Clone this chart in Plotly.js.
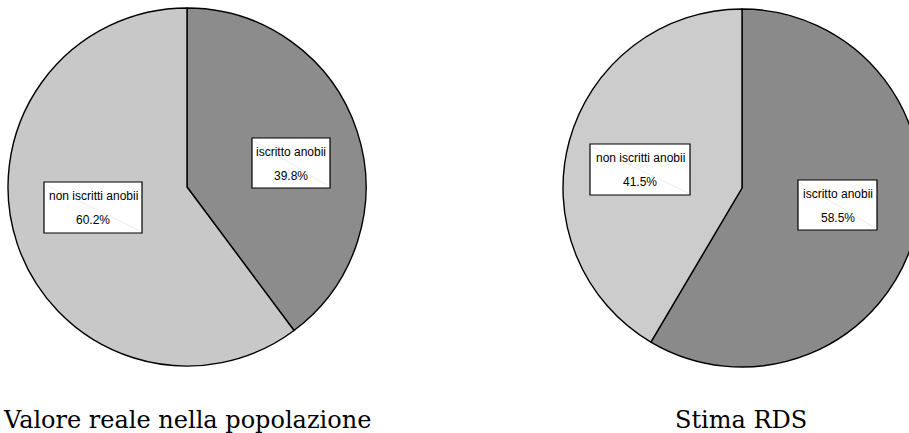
<!DOCTYPE html>
<html>
<head>
<meta charset="utf-8">
<script src="https://cdn.plot.ly/plotly-3.0.1.min.js"></script>
<style>
  html, body { margin: 0; padding: 0; background: #ffffff; overflow: hidden; width: 909px; height: 433px; }
  #chart { width: 930px; height: 433px; }
</style>
</head>
<body>
<div id="chart"></div>
<script>
// Categories and shares (percent) for the two pies
const categories = ["iscritto anobii", "non iscritti anobii"];
const realValues = [39.8, 60.2];      // Valore reale nella popolazione
const rdsValues  = [58.5, 41.5];      // Stima RDS
const pieTitles  = ["Valore reale nella popolazione", "Stima RDS"];

const W = 930, H = 433;
const px = x => x / W;
const py = y => 1 - y / H;

function pieTrace(values, cx, cy, r, colors) {
  return {
    type: "pie",
    labels: categories,
    values: values,
    sort: false,
    direction: "clockwise",
    rotation: 0,
    textinfo: "none",
    hoverinfo: "label+percent",
    showlegend: false,
    marker: { colors: colors, line: { color: "#000000", width: 1.4 } },
    domain: { x: [px(cx - r), px(cx + r)], y: [py(cy + r), py(cy - r)] }
  };
}

const traces = [
  pieTrace(realValues, 187, 187, 179, ["#8c8c8c", "#c8c8c8"]),
  pieTrace(rdsValues, 742, 188, 179, ["#8a8a8a", "#cccccc"])
];

// Label boxes: [pie values, category index, left, top, right, bottom] in pixels
const boxes = [
  [realValues, 0, 252, 138, 330, 188],
  [realValues, 1, 44, 182, 142, 233],
  [rdsValues, 1, 590, 144, 690, 195],
  [rdsValues, 0, 798, 180, 877, 230]
];

const shapes = [];
const annotations = [];
const labelFont = { family: "Liberation Sans, Arial, sans-serif", size: 12, color: "#000000" };

boxes.forEach(([vals, idx, x0, y0, x1, y1]) => {
  shapes.push({
    type: "rect", xref: "paper", yref: "paper",
    x0: px(x0), x1: px(x1), y0: py(y1), y1: py(y0),
    fillcolor: "#ffffff", line: { color: "#000000", width: 1.2 }, layer: "above"
  });
  shapes.push({
    type: "line", xref: "paper", yref: "paper",
    x0: px(x0 + 2), y0: py(y0 + 3), x1: px(x1 - 2), y1: py(y1 - 2),
    line: { color: "rgba(0,0,0,0.10)", width: 0.8 }, layer: "above"
  });
  const cx = (x0 + x1) / 2;
  annotations.push({
    xref: "paper", yref: "paper", x: px(cx), y: py(y0 + 14),
    xanchor: "center", yanchor: "middle", showarrow: false,
    text: categories[idx], font: labelFont
  });
  annotations.push({
    xref: "paper", yref: "paper", x: px(cx), y: py(y0 + 38),
    xanchor: "center", yanchor: "middle", showarrow: false,
    text: vals[idx].toFixed(1) + "%", font: labelFont
  });
});

// Captions under each pie
const titleFont = { family: "DejaVu Serif, Liberation Serif, serif", size: 24, color: "#000000" };
annotations.push({
  xref: "paper", yref: "paper", x: px(187), y: py(420),
  xanchor: "center", yanchor: "middle", showarrow: false,
  text: pieTitles[0], font: titleFont
});
annotations.push({
  xref: "paper", yref: "paper", x: px(741), y: py(420),
  xanchor: "center", yanchor: "middle", showarrow: false,
  text: pieTitles[1], font: titleFont
});

const layout = {
  width: W, height: H,
  margin: { l: 0, r: 0, t: 0, b: 0 },
  paper_bgcolor: "#ffffff",
  plot_bgcolor: "#ffffff",
  shapes: shapes,
  annotations: annotations
};

Plotly.newPlot("chart", traces, layout, { staticPlot: true, displayModeBar: false });
</script>
</body>
</html>
